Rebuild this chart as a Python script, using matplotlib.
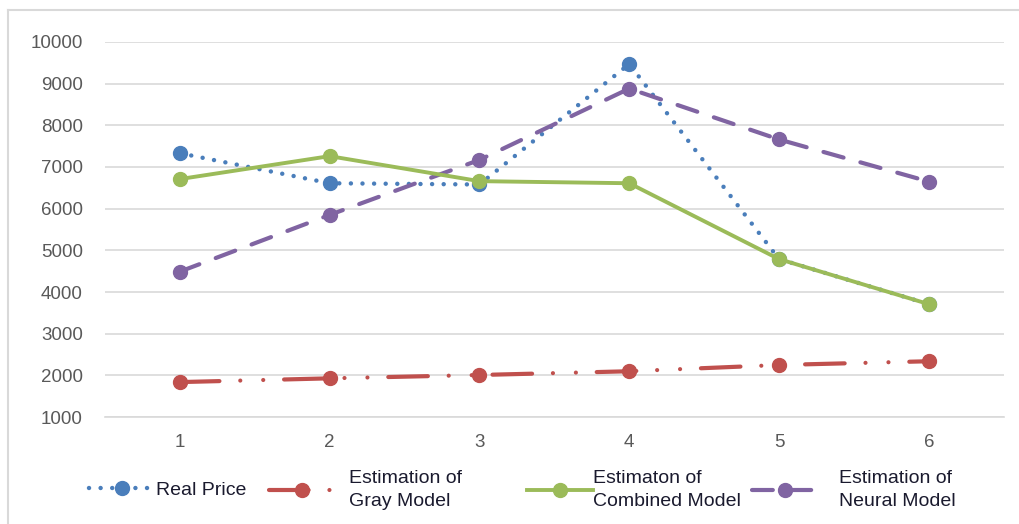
import matplotlib
matplotlib.use("Agg")
import matplotlib.pyplot as plt
from matplotlib.lines import Line2D

periods = [1, 2, 3, 4, 5, 6]
real_price = [7330, 6610, 6580, 9470, 4790, 3710]
gray_model = [1840, 1930, 2010, 2100, 2250, 2340]
combined_model = [6710, 7260, 6660, 6610, 4790, 3710]
neural_model = [4490, 5850, 7170, 8880, 7660, 6650]
yticks = [1000, 2000, 3000, 4000, 5000, 6000, 7000, 8000, 9000, 10000]

plt.rcParams['font.family'] = ['Liberation Sans', 'DejaVu Sans']

fig = plt.figure(figsize=(10.19, 5.24), dpi=100)
ax = fig.add_axes([0.103, 0.204, 0.882, 0.716])

ms = 10
lines = []
lines += ax.plot(periods, real_price, color='#4A7EBB', lw=3.2, linestyle=(0, (0.01, 2.6)),
                 dash_capstyle='round', marker='o', ms=ms, label='Real Price', zorder=3)
lines += ax.plot(periods, gray_model, color='#C0504D', lw=3,
                 linestyle=(0, (9.5, 5, 0.01, 5.5, 0.01, 5)),
                 dash_capstyle='round', marker='o', ms=ms,
                 label='Estimation of\nGray Model', zorder=3)
lines += ax.plot(periods, combined_model, color='#9BBB59', lw=2.8, marker='o', ms=ms,
                 label='Estimaton of\nCombined Model', zorder=4)
lines += ax.plot(periods, neural_model, color='#8064A2', lw=3, linestyle=(0, (5, 4.2)),
                 dash_capstyle='round', marker='o', ms=ms,
                 label='Estimation of\nNeural Model', zorder=3)

ax.set_xlim(0.5, 6.5)
ax.set_ylim(1000, 10000)
ax.set_xticks(periods)
ax.set_yticks(yticks)
ax.tick_params(length=0, labelsize=13.5, labelcolor='#595959', pad=12)
ax.tick_params(axis='y', pad=16)
ax.grid(axis='y', color='#D9D9D9', lw=1.2)
ax.set_axisbelow(True)
for s in ['top', 'right', 'left']:
    ax.spines[s].set_visible(False)
ax.spines['bottom'].set_color('#D9D9D9')
ax.spines['bottom'].set_linewidth(1.2)

# chart area border (only top and left show in the crop)
fig.add_artist(Line2D([8 / 1019, 8 / 1019], [0, 1 - 10 / 524], transform=fig.transFigure,
                      color='#D9D9D9', lw=1.5))
fig.add_artist(Line2D([8 / 1019, 1], [1 - 10 / 524, 1 - 10 / 524], transform=fig.transFigure,
                      color='#D9D9D9', lw=1.5))

# legend entries placed one by one, like Excel does
leg_x = [75, 255, 513, 738]
leg_pad = [0.05, 0.75, 0.0, 1.1]
for ln, x, p in zip(lines, leg_x, leg_pad):
    leg = fig.legend(handles=[ln], loc='center left', bbox_to_anchor=(x / 1019, 0.065),
                     frameon=False, fontsize=14, handlelength=3.4, handletextpad=p,
                     labelcolor='#1a1a2e', borderpad=0.2)
    for t in leg.get_texts():
        t.set_linespacing(1.45)

fig.savefig('out.png', dpi=100)
